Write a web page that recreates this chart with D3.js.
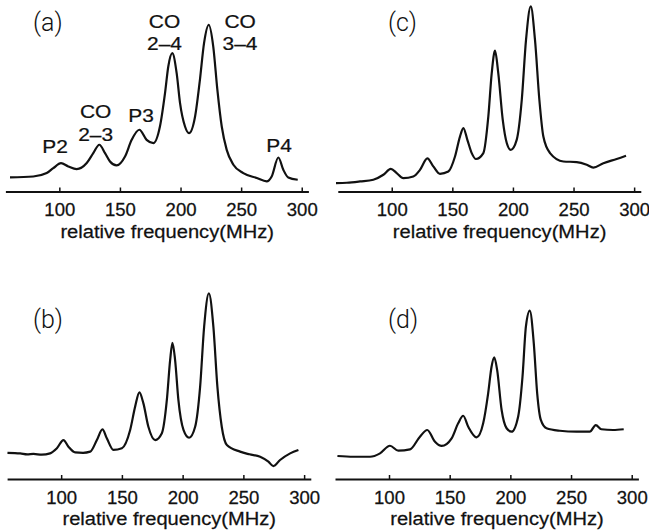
<!DOCTYPE html>
<meta charset="UTF-8">
<style>
  body { margin: 0; background: #fff; }
  text { font-family: "Liberation Sans", Arial, sans-serif; fill: #111; stroke: #111; stroke-width: 0.25; }
  .tag { font-family: Roboto, "Open Sans", sans-serif; font-weight: 300; stroke: none; }
</style>
<svg width="649" height="530"></svg>
<script src="https://d3js.org/d3.v7.min.js"></script>
<script>

// spectra: [relative frequency (MHz), signal (a.u.)]
var spectrumA = [
  [59.3, 0.074], [78.5, 0.079], [89.6, 0.097], [95, 0.123], [101.4, 0.149], [107.4, 0.132],
  [114.3, 0.118], [122.6, 0.150], [128, 0.202], [133, 0.246], [137.7, 0.202], [141.8, 0.158],
  [147.3, 0.137], [154.2, 0.184], [159.7, 0.272], [166, 0.325], [172, 0.272], [177.6, 0.255],
  [183, 0.342], [187.2, 0.518], [189.9, 0.658], [193.2, 0.728], [196.8, 0.623], [199.6, 0.465],
  [203.7, 0.342], [207, 0.307], [212, 0.395], [216, 0.588], [219.4, 0.781], [223.3, 0.877],
  [227, 0.763], [230.4, 0.535], [234, 0.342], [238.1, 0.219], [243.6, 0.141], [251.8, 0.097],
  [262.9, 0.071], [271.1, 0.053], [275.2, 0.079], [280.7, 0.179], [284.8, 0.114],
  [288.9, 0.074], [296.7, 0.062]
];

var spectrumB = [
  [55.8, 0.138], [66.3, 0.135], [72, 0.130], [77.2, 0.132], [84, 0.128], [90.9, 0.135], [96.5, 0.162],
  [101.9, 0.205], [106, 0.170], [111.5, 0.140], [118, 0.138], [123.9, 0.144], [129.4, 0.205],
  [134, 0.261], [137.6, 0.214], [143, 0.153], [150, 0.162], [156.8, 0.258], [160.9, 0.381],
  [164.4, 0.456], [167.7, 0.398], [171.8, 0.275], [177.4, 0.205], [182.9, 0.241], [187, 0.416],
  [189.7, 0.626], [191.6, 0.717], [193.8, 0.626], [196.5, 0.416], [200.7, 0.258], [205.3, 0.217],
  [210.3, 0.275], [214.4, 0.486], [217.7, 0.802], [221.6, 0.977], [225.3, 0.802], [228.6, 0.486],
  [232.2, 0.275], [236.4, 0.179], [247.3, 0.144], [255, 0.130], [263.8, 0.117], [270.6, 0.091],
  [274.7, 0.068], [280.2, 0.100], [288.5, 0.135], [295.3, 0.153]
];

var spectrumC = [
  [54, 0.044], [63, 0.046], [73.9, 0.053], [84.8, 0.062], [93.1, 0.088], [99.2, 0.119], [104.1, 0.097],
  [109.6, 0.070], [117.8, 0.079], [123.3, 0.114], [129.4, 0.174], [134.3, 0.132], [139.8, 0.093],
  [146.7, 0.105], [152.2, 0.184], [156.3, 0.289], [159.1, 0.334], [162.4, 0.272], [166, 0.202],
  [169.5, 0.171], [175.6, 0.202], [179.7, 0.395], [182.5, 0.623], [185.2, 0.741], [187.9, 0.623],
  [191.6, 0.377], [194.9, 0.255], [198.2, 0.219], [203.1, 0.272], [207.3, 0.483], [210.8, 0.798],
  [214.7, 0.974], [218.2, 0.798], [221.8, 0.483], [225.1, 0.289], [230.6, 0.202], [241.6, 0.158],
  [252.6, 0.155], [260.9, 0.141], [266.3, 0.126], [274.6, 0.149], [285.6, 0.171], [293.3, 0.188]
];

var spectrumD = [
  [57.5, 0.121], [70.6, 0.117], [84.4, 0.117], [92.6, 0.135], [100.8, 0.175], [107.7, 0.149],
  [117.3, 0.156], [125.5, 0.223], [131.5, 0.258], [137.9, 0.196], [143.4, 0.174], [151.6, 0.214],
  [157, 0.293], [161.1, 0.333], [165.3, 0.275], [172.2, 0.219], [177.6, 0.293], [181.7, 0.451],
  [184.5, 0.591], [186.7, 0.640], [189.1, 0.574], [192.8, 0.363], [196.9, 0.267], [201, 0.249],
  [206.4, 0.328], [210, 0.538], [212.8, 0.802], [216, 0.886], [219.3, 0.714], [222.1, 0.451],
  [225.1, 0.311], [229.8, 0.267], [240.7, 0.254], [254.5, 0.249], [265.4, 0.249], [270.4, 0.284],
  [275, 0.262], [284.6, 0.258], [293.4, 0.262]
];

var freqTicks = [100, 150, 200, 250, 300];
var panelTags = ["(a)", "(b)", "(c)", "(d)"];
var axisTitle = "relative frequency(MHz)";
var peakNames = [["P2"], ["CO", "2–3"], ["P3"], ["CO", "2–4"], ["CO", "3–4"], ["P4"]];

var svg = d3.select("svg");

var panels = [
  {tag: panelTags[0], data: spectrumA, x0: 5.4, x1: 308.4, axisY: 191.5, tagX: 33, tagY: 31},
  {tag: panelTags[1], data: spectrumB, x0: 7.1, x1: 310.8, axisY: 479, tagX: 33, tagY: 328},
  {tag: panelTags[2], data: spectrumC, x0: 337.8, x1: 640.8, axisY: 191.5, tagX: 388, tagY: 31},
  {tag: panelTags[3], data: spectrumD, x0: 335, x1: 638.4, axisY: 479, tagX: 388, tagY: 328}
];

// where the peak names sit in panel (a): centre freq, baselines in px
var peakSpots = [
  {f: 96.5, y: [153]}, {f: 129.9, y: [118, 141]}, {f: 167.4, y: [122]},
  {f: 186.8, y: [28, 50]}, {f: 249.1, y: [28, 50]}, {f: 281.3, y: [152]}
];

panels.forEach(function(p, i) {
  var x = d3.scaleLinear().domain([55.5, 305.5]).range([p.x0, p.x1]);
  var y = d3.scaleLinear().domain([0, 1]).range([p.axisY, p.axisY - 190]);

  var line = d3.line()
      .curve(d3.curveMonotoneX)
      .x(function(d) { return x(d[0]); })
      .y(function(d) { return y(d[1]); });

  svg.append("path")
      .datum(p.data)
      .attr("fill", "none")
      .attr("stroke", "#111")
      .attr("stroke-width", 2.2)
      .attr("stroke-linejoin", "round")
      .attr("d", line);

  var ax = svg.append("g")
      .attr("transform", "translate(0," + p.axisY + ")")
      .call(d3.axisBottom(x).tickValues(freqTicks).tickSizeInner(-4).tickSizeOuter(0));
  ax.select(".domain").attr("stroke", "#111").attr("stroke-width", 2.2);
  ax.selectAll(".tick line").attr("stroke", "#111").attr("stroke-width", 1.5);
  ax.selectAll(".tick text")
      .attr("y", 0).attr("dy", null)
      .attr("transform", "translate(0,24.5) scale(1.06,1)")
      .attr("font-family", "Liberation Sans, Arial, sans-serif")
      .attr("font-size", 17.5)
      .attr("fill", "#111");

  svg.append("text")
      .attr("transform", "translate(" + x(189) + "," + (p.axisY + 46) + ") scale(1.06,1)")
      .attr("text-anchor", "middle")
      .attr("font-size", 19)
      .text(axisTitle);

  svg.append("text")
      .attr("class", "tag")
      .attr("x", p.tagX)
      .attr("y", p.tagY)
      .attr("font-size", 25)
      .text(p.tag);

  if (i === 0) {
    peakNames.forEach(function(lines, k) {
      var s = peakSpots[k];
      lines.forEach(function(t, j) {
        svg.append("text")
            .attr("transform", "translate(" + x(s.f) + "," + s.y[j] + ") scale(1.1,1)")
            .attr("text-anchor", "middle")
            .attr("font-size", 19)
            .text(t);
      });
    });
  }
});

</script>
